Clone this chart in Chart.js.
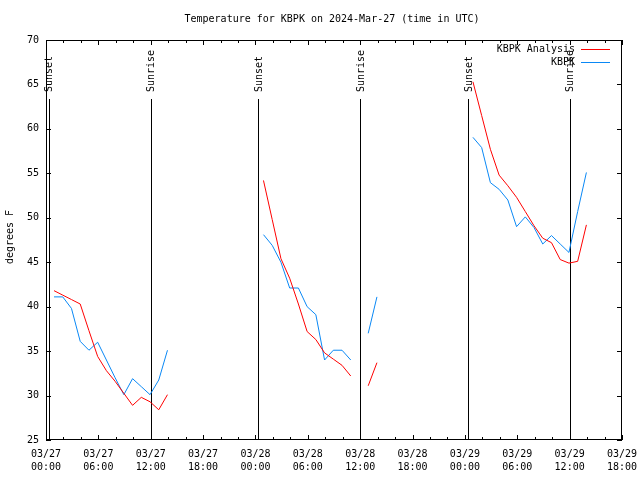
<!DOCTYPE html>
<html><head><meta charset="utf-8">
<script src="https://cdn.jsdelivr.net/npm/chart.js@4/dist/chart.umd.min.js"></script>
<style>html,body{margin:0;padding:0;background:#fff}#wrap{width:640px;height:480px}</style>
</head><body><div id="wrap"><canvas id="c" width="640" height="480"></canvas></div>
<script>
const FONT_FAMILY = '"DejaVu Sans Mono", "Liberation Mono", monospace';
const chartTitle = 'Temperature for KBPK on 2024-Mar-27 (time in UTC)';
const yAxisTitle = 'degrees F';
const seriesNames = ['KBPK Analysis', 'KBPK'];

// hours after 2024-03-27 00:00 UTC (null values = gaps)
const hours = [0.92,1.92,2.92,3.92,4.92,5.92,6.92,7.92,8.92,9.92,10.92,11.92,12.92,13.92,14.92,
  24.92,25.92,26.92,27.92,28.92,29.92,30.92,31.92,32.92,33.92,34.92,35.92,36.92,37.92,38.92,
  48.92,49.92,50.92,51.92,52.92,53.92,54.92,55.92,56.92,57.92,58.92,59.92,60.92,61.92];
const analysis = [41.8,41.3,40.8,40.3,37.3,34.4,32.8,31.6,30.25,28.9,29.8,29.3,28.4,30.1,null,
  54.2,49.8,45.4,43.2,40.3,37.2,36.3,34.8,34.1,33.4,32.2,null,31.1,33.7,null,
  65.3,61.5,57.7,54.8,53.6,52.3,50.7,49.1,47.7,47.2,45.3,44.9,45.1,49.2];
const kbpk = [41.1,41.1,39.8,36.1,35.1,36.0,34.0,32.0,30.1,31.9,31.0,30.1,31.75,35.1,null,
  48.1,46.9,45.0,42.1,42.1,40.0,39.1,34.0,35.1,35.1,34.0,null,37.0,41.1,null,
  59.05,57.9,53.95,53.2,52.0,49.0,50.1,48.9,47.05,48.0,47.05,46.1,50.7,55.1];

const tickDates = ['03/27','03/27','03/27','03/27','03/28','03/28','03/28','03/28','03/29','03/29','03/29','03/29'];
const tickTimes = ['00:00','06:00','12:00','18:00','00:00','06:00','12:00','18:00','00:00','06:00','12:00','18:00'];

const sunHours = [0.3, 12.0, 24.3, 36.0, 48.4, 60.0];
const sunLabels = ['Sunset','Sunrise','Sunset','Sunrise','Sunset','Sunrise'];

const colors = ['#ff0000', '#0a88f5'];

const toPts = vals => hours.map((h, i) => ({x: h, y: vals[i]}));

const decor = {
  id: 'decor',
  beforeDatasetsDraw(chart) {
    const {ctx, chartArea: a, scales: {x, y}} = chart;
    ctx.save();
    ctx.strokeStyle = '#000';
    ctx.lineWidth = 1;
    ctx.strokeRect(Math.round(a.left) + 0.5, Math.round(a.top) + 0.5,
      Math.round(a.right - a.left) - 1, Math.round(a.bottom - a.top) - 1);
    ctx.beginPath();
    for (let h = 0; h <= 66; h += 2) {
      const px = Math.round(x.getPixelForValue(h)) + 0.5;
      const len = (h % 6 === 0) ? 5 : 3;
      ctx.moveTo(px, a.bottom); ctx.lineTo(px, a.bottom - len);
      ctx.moveTo(px, a.top); ctx.lineTo(px, a.top + len);
    }
    for (let v = 25; v <= 70; v += 5) {
      const py = Math.round(y.getPixelForValue(v)) + 0.5;
      ctx.moveTo(a.left, py); ctx.lineTo(a.left + 5, py);
      ctx.moveTo(a.right, py); ctx.lineTo(a.right - 5, py);
    }
    ctx.stroke();
    // sunrise / sunset lines
    ctx.beginPath();
    sunHours.forEach(h => {
      const px = Math.round(x.getPixelForValue(h)) + 0.5;
      ctx.moveTo(px, 99); ctx.lineTo(px, a.bottom);
    });
    ctx.stroke();
    ctx.restore();
  },
  afterDraw(chart) {
    const {ctx, chartArea: a, scales: {x}} = chart;
    ctx.save();
    ctx.fillStyle = '#000';
    ctx.font = '10px ' + FONT_FAMILY;
    ctx.textAlign = 'center';
    ctx.textBaseline = 'middle';
    ctx.fillText(chartTitle, 332, 19);
    // y axis title
    ctx.save();
    ctx.translate(10, 237);
    ctx.rotate(-Math.PI / 2);
    ctx.fillText(yAxisTitle, 0, 0);
    ctx.restore();
    // sun labels
    sunHours.forEach((h, i) => {
      const px = x.getPixelForValue(h);
      ctx.save();
      ctx.translate(px + 1, 92);
      ctx.rotate(-Math.PI / 2);
      ctx.textAlign = 'left';
      ctx.fillText(sunLabels[i], 0, 0);
      ctx.restore();
    });
    // legend
    ctx.textAlign = 'right';
    seriesNames.forEach((n, i) => {
      const yy = 49 + i * 13;
      ctx.fillStyle = '#000';
      ctx.fillText(n, 575, yy);
      ctx.strokeStyle = colors[i];
      ctx.lineWidth = 1;
      ctx.beginPath();
      ctx.moveTo(581, yy + 0.5); ctx.lineTo(610, yy + 0.5);
      ctx.stroke();
    });
    ctx.restore();
  }
};

new Chart(document.getElementById('c'), {
  type: 'line',
  data: {
    datasets: [
      {label: seriesNames[0], data: toPts(analysis), borderColor: colors[0], borderWidth: 1, pointRadius: 0, tension: 0, spanGaps: false, fill: false},
      {label: seriesNames[1], data: toPts(kbpk), borderColor: colors[1], borderWidth: 1, pointRadius: 0, tension: 0, spanGaps: false, fill: false}
    ]
  },
  options: {
    responsive: false,
    animation: false,
    layout: {padding: {top: 40, right: 18, left: 0, bottom: 0}},
    plugins: {legend: {display: false}, title: {display: false}, tooltip: {enabled: false}},
    scales: {
      x: {
        type: 'linear', min: 0, max: 66,
        grid: {display: false, drawTicks: false},
        border: {display: false},
        afterFit: s => { s.height = 40; s.paddingLeft = 0; s.paddingRight = 0; },
        ticks: {
          stepSize: 6, autoSkip: false, maxRotation: 0, minRotation: 0, padding: 8,
          color: '#000', font: {family: FONT_FAMILY, size: 10, lineHeight: 1.3},
          callback: v => [tickDates[Math.round(v / 6)], tickTimes[Math.round(v / 6)]]
        }
      },
      y: {
        min: 25, max: 70,
        grid: {display: false, drawTicks: false},
        border: {display: false},
        afterFit: s => { s.width = 46; s.paddingTop = 0; s.paddingBottom = 0; },
        ticks: {stepSize: 5, padding: 7, color: '#000', font: {family: FONT_FAMILY, size: 10}}
      }
    }
  },
  plugins: [decor]
});
</script>
</body></html>
